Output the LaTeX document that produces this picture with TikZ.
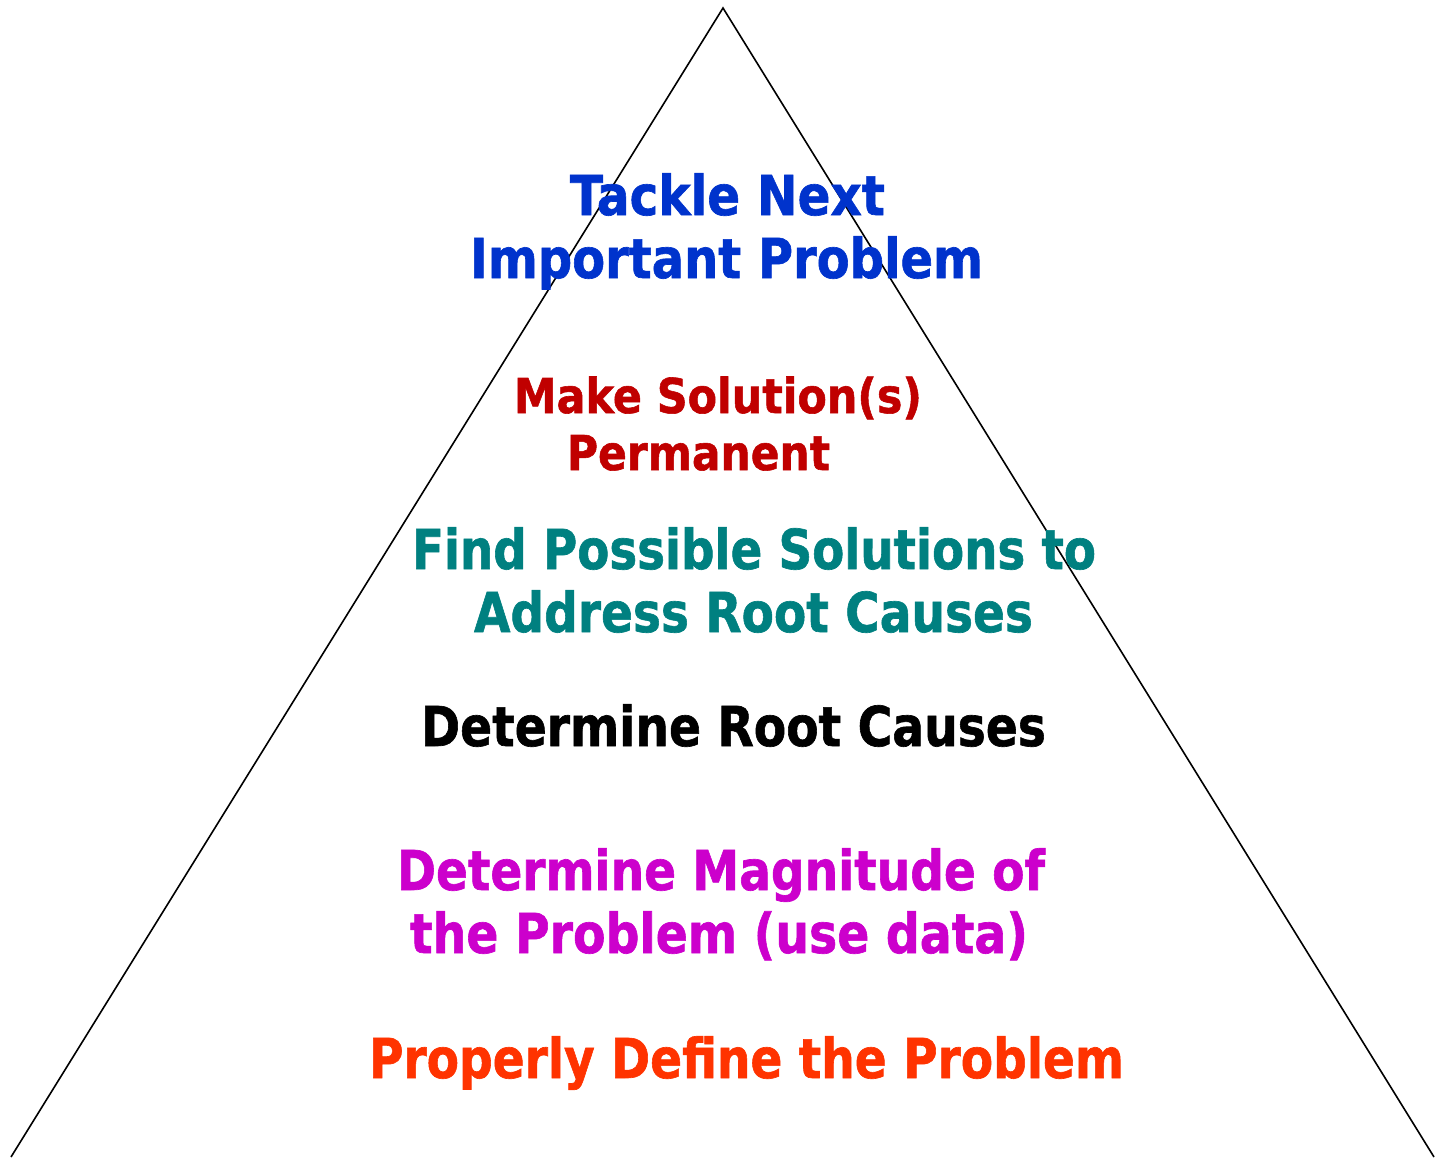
\documentclass[tikz,border=0pt]{standalone}
\usepackage{fontspec}
\setmainfont{DejaVu Sans}[BoldFeatures={FakeBold=1.2}]
\usepackage{graphicx}
\definecolor{cblue}{HTML}{0033CC}
\definecolor{cred}{HTML}{C00000}
\definecolor{cteal}{HTML}{008080}
\definecolor{cmag}{HTML}{CC00CC}
\definecolor{corange}{HTML}{FF3300}
\newcommand{\fitw}[2]{\resizebox{#1pt}{\height}{#2}}
\begin{document}
\begin{tikzpicture}[x=1pt,y=-1pt,
  lbl/.style={inner sep=0pt, anchor=base, font=\bfseries\fontsize{55}{60}\selectfont},
  lbls/.style={inner sep=0pt, anchor=base, font=\bfseries\fontsize{48}{52}\selectfont}]
\useasboundingbox (0,0) rectangle (1435,1157);
\coordinate (apex) at (723,8);
\coordinate (bl) at (11,1157);
\coordinate (br) at (1434,1157);
\draw[line width=1.6pt] (bl) -- (apex) -- (br);

\node[lbl, text=cblue] (t1) at (727.5,215) {\fitw{315}{Tackle Next}};
\node[lbl, text=cblue] (t2) at (726.5,278) {\fitw{513}{Important Problem}};

\node[lbls, text=cred] (m1) at (718,413) {\fitw{408}{Make Solution(s)}};
\node[lbls, text=cred] (m2) at (698.5,470) {\fitw{263}{Permanent}};

\node[lbl, text=cteal] (f1) at (754,569) {\fitw{684}{Find Possible Solutions to}};
\node[lbl, text=cteal] (f2) at (753.5,632) {\fitw{559}{Address Root Causes}};

\node[lbl, text=black] (d1) at (733.5,746) {\fitw{625}{Determine Root Causes}};

\node[lbl, text=cmag] (g1) at (721,890) {\fitw{648}{Determine Magnitude of}};
\node[lbl, text=cmag] (g2) at (719,953) {\fitw{618}{the Problem (use data)}};

\node[lbl, text=corange] (p1) at (746.5,1078) {\fitw{755}{Properly Define the Problem}};
\end{tikzpicture}
\end{document}
